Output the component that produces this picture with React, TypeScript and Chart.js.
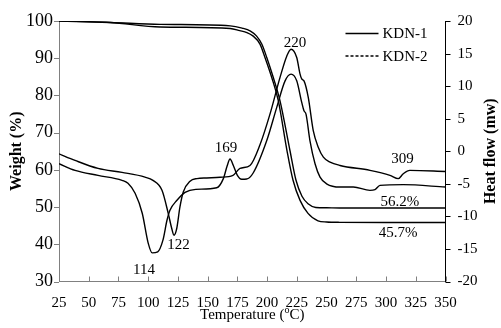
import React, { useEffect, useRef } from 'react';
import { Chart, registerables } from 'chart.js';
Chart.register(...registerables);

// Temperature (°C) axis
const xTicksMin = 25;
const xTicksMax = 350;
const xStep = 25;
const weightMin = 30;
const weightMax = 100;
const weightStep = 10;
const heatMin = -20;
const heatMax = 20;
const heatStep = 5;

// TG curves (Weight %)
const tg1Temp = [25, 68, 110, 169, 179, 186, 191, 195.5, 199.7, 205.2, 210.8, 219.2, 224.3, 229.3, 234.4, 241, 250, 261, 280, 300, 320, 350];
const tg1Weight = [100, 99.6, 99.1, 98.7, 98.1, 97.3, 96.0, 93.8, 90.2, 84.8, 78.6, 65.2, 57.2, 52.9, 50.9, 49.9, 49.8, 49.76, 49.75, 49.75, 49.76, 49.76];
const tg2Temp = [25, 68, 110, 169, 177, 183, 188, 194, 198.2, 203.9, 209.4, 216.7, 221.8, 227.7, 234.4, 242.8, 250, 261, 300, 350];
const tg2Weight = [100, 99.6, 98.4, 98.0, 97.4, 96.9, 96.0, 93.8, 90.2, 84.8, 78.6, 65.2, 57.2, 51.8, 48.3, 46.3, 46.0, 45.9, 45.85, 45.85];

// DSC curves (Heat flow mw)
const dsc1Temp = [25, 38.5, 57.8, 78, 97.3, 104, 111.6, 116.9, 119.8, 121.7, 124, 126.7, 129.5, 135.2, 141, 149.2, 160.4, 171.3, 177.2, 185.6, 194, 202.4, 210.8, 216.5, 220.1, 224.9, 227.7, 229.1, 231, 234.6, 238.8, 243, 247.3, 252.9, 261.3, 286.5, 303.3, 310.3, 314.5, 320, 350];
const dsc1Flow = [-0.39, -1.41, -2.64, -3.25, -3.97, -4.47, -6.0, -9.57, -11.86, -12.9, -11.86, -8.56, -6.26, -4.6, -4.2, -4.1, -4.0, -3.7, -2.64, -2.18, 1.0, 5.7, 11.3, 14.6, 15.67, 14.4, 11.85, 11.1, 10.8, 8.27, 3.17, 0.62, -0.91, -1.67, -2.18, -2.94, -3.7, -4.2, -3.45, -2.94, -3.1];
const dsc2Temp = [25, 38.5, 57.8, 78, 83, 89, 95, 100, 103.4, 108, 112.4, 115.8, 118.3, 124.2, 131, 140, 157.6, 163.2, 166.5, 168.8, 171.6, 175, 178.6, 182.8, 188.4, 199.7, 208.1, 215.1, 220.1, 224.9, 229.1, 231, 232.7, 236, 240.3, 244.5, 250, 261.3, 272.5, 286.5, 290.7, 294.9, 314.5, 350];
const dsc2Flow = [-1.92, -2.94, -3.71, -4.47, -4.93, -6.46, -9.52, -14.1, -15.6, -15.44, -13.65, -10.6, -9.06, -7.53, -6.31, -5.85, -5.6, -4.2, -2.18, -1.2, -2.18, -3.7, -4.3, -4.27, -3.3, 1.64, 6.74, 10.8, 11.84, 10.82, 7.5, 6.2, 5.7, 1.64, -1.92, -3.97, -5.0, -5.5, -5.5, -6.0, -5.9, -5.24, -5.13, -5.5];

// Annotations (text, temperature, weight-axis position)
const noteTexts = ['114', '122', '169', '220', '309', '56.2%', '45.7%'];
const noteTemps = [96.5, 125.5, 165.4, 223.5, 313.8, 311.7, 310.1];
const noteWeights = [33.1, 39.8, 65.9, 94.0, 62.8, 51.3, 43.1];

const seriesNames = ['KDN-1', 'KDN-2'];

const SERIF = '"Liberation Serif", "Times New Roman", serif';

function pts(xs: number[], ys: number[]) {
  return xs.map((x, i) => ({ x, y: ys[i] }));
}

const decorPlugin = {
  id: 'decor',
  afterDraw(chart: any) {
    const ctx = chart.ctx;
    const { x, y, y1 } = chart.scales;
    const area = chart.chartArea;
    ctx.save();
    // tick marks
    ctx.lineWidth = 1;
    ctx.strokeStyle = '#808080';
    y.ticks.forEach((t: any) => {
      const py = Math.round(y.getPixelForValue(t.value)) + 0.5;
      ctx.beginPath();
      ctx.moveTo(area.left - 5, py);
      ctx.lineTo(area.left, py);
      ctx.stroke();
    });
    x.ticks.forEach((t: any) => {
      const px = Math.round(x.getPixelForValue(t.value)) + 0.5;
      ctx.beginPath();
      ctx.moveTo(px, area.bottom);
      ctx.lineTo(px, area.bottom - 5);
      ctx.stroke();
    });
    ctx.strokeStyle = '#000';
    y1.ticks.forEach((t: any) => {
      const py = Math.round(y1.getPixelForValue(t.value)) + 0.5;
      ctx.beginPath();
      ctx.moveTo(area.right, py);
      ctx.lineTo(area.right + 5, py);
      ctx.stroke();
    });

    // annotations
    ctx.fillStyle = '#000';
    ctx.font = `15px ${SERIF}`;
    ctx.textAlign = 'center';
    ctx.textBaseline = 'middle';
    noteTexts.forEach((txt, i) => {
      ctx.fillText(txt, x.getPixelForValue(noteTemps[i]), y.getPixelForValue(noteWeights[i]));
    });

    // legend
    const lx0 = area.right - 100;
    const lx1 = area.right - 67;
    seriesNames.forEach((name, i) => {
      const ly = area.top + 12.5 + i * 22.5;
      ctx.beginPath();
      ctx.lineWidth = 1.3;
      ctx.setLineDash(i === 0 ? [] : [3, 2]);
      ctx.moveTo(lx0, ly);
      ctx.lineTo(lx1, ly);
      ctx.stroke();
      ctx.setLineDash([]);
      ctx.textAlign = 'left';
      ctx.fillText(name, lx1 + 4, ly + 1);
    });

    // axis titles
    ctx.font = `bold 16px ${SERIF}`;
    ctx.textAlign = 'center';
    ctx.save();
    ctx.translate(17, (area.top + area.bottom) / 2);
    ctx.rotate(-Math.PI / 2);
    ctx.fillText('Weight (%)', 0, 0);
    ctx.restore();
    ctx.save();
    ctx.translate(491, (area.top + area.bottom) / 2);
    ctx.rotate(-Math.PI / 2);
    ctx.fillText('Heat flow (mw)', 0, 0);
    ctx.restore();

    // x title with superscript o
    ctx.font = `15px ${SERIF}`;
    const partA = 'Temperature (';
    const partC = 'C)';
    const wA = ctx.measureText(partA).width;
    const wC = ctx.measureText(partC).width;
    ctx.font = `10px ${SERIF}`;
    const wO = ctx.measureText('o').width;
    const total = wA + wO + wC;
    const cx = (area.left + area.right) / 2;
    const ty = 315;
    let sx = cx - total / 2;
    ctx.textAlign = 'left';
    ctx.font = `15px ${SERIF}`;
    ctx.fillText(partA, sx, ty);
    sx += wA;
    ctx.font = `10px ${SERIF}`;
    ctx.fillText('o', sx, ty - 5);
    sx += wO;
    ctx.font = `15px ${SERIF}`;
    ctx.fillText(partC, sx, ty);
    ctx.restore();
  },
};

export default function App() {
  const ref = useRef<HTMLCanvasElement>(null);
  useEffect(() => {
    if (!ref.current) return;
    const lineStyle = {
      borderColor: '#000',
      borderWidth: 1.4,
      pointRadius: 0,
      fill: false,
      cubicInterpolationMode: 'monotone' as const,
    };
    const chart = new Chart(ref.current, {
      type: 'line',
      data: {
        datasets: [
          { label: seriesNames[0] + ' TG', data: pts(tg1Temp, tg1Weight), yAxisID: 'y', ...lineStyle },
          { label: seriesNames[1] + ' TG', data: pts(tg2Temp, tg2Weight), yAxisID: 'y', ...lineStyle },
          { label: seriesNames[0] + ' DSC', data: pts(dsc1Temp, dsc1Flow), yAxisID: 'y1', ...lineStyle },
          { label: seriesNames[1] + ' DSC', data: pts(dsc2Temp, dsc2Flow), yAxisID: 'y1', ...lineStyle },
        ],
      },
      options: {
        responsive: false,
        animation: false,
        layout: { padding: { top: 20, left: 0, right: 0, bottom: 0 } },
        plugins: { legend: { display: false }, tooltip: { enabled: false } },
        scales: {
          x: {
            type: 'linear',
            min: xTicksMin,
            max: xTicksMax,
            ticks: { stepSize: xStep, color: '#000', font: { family: SERIF, size: 15 }, padding: 13, maxRotation: 0 },
            grid: { display: false, drawTicks: false, tickLength: 0 },
            border: { display: true, color: '#808080', width: 1 },
            afterFit: (s: any) => { s.height = 46.5; },
          },
          y: {
            type: 'linear',
            position: 'left',
            min: weightMin,
            max: weightMax,
            ticks: { stepSize: weightStep, color: '#000', font: { family: SERIF, size: 18 }, padding: 6 },
            grid: { display: false, drawTicks: false, tickLength: 0 },
            border: { display: true, color: '#808080', width: 1 },
            afterFit: (s: any) => { s.width = 59; },
          },
          y1: {
            type: 'linear',
            position: 'right',
            min: heatMin,
            max: heatMax,
            ticks: { stepSize: heatStep, color: '#000', font: { family: SERIF, size: 15 }, padding: 12 },
            grid: { display: false, drawTicks: false, tickLength: 0 },
            border: { display: true, color: '#000', width: 1 },
            afterFit: (s: any) => { s.width = 55.5; },
          },
        },
      },
      plugins: [decorPlugin],
    });
    return () => chart.destroy();
  }, []);
  return (
    <div style={{ position: 'fixed', left: 0, top: 0, width: 501, height: 328, background: '#fff' }}>
      <canvas ref={ref} width={501} height={328} style={{ display: 'block', width: 501, height: 328 }} />
    </div>
  );
}
